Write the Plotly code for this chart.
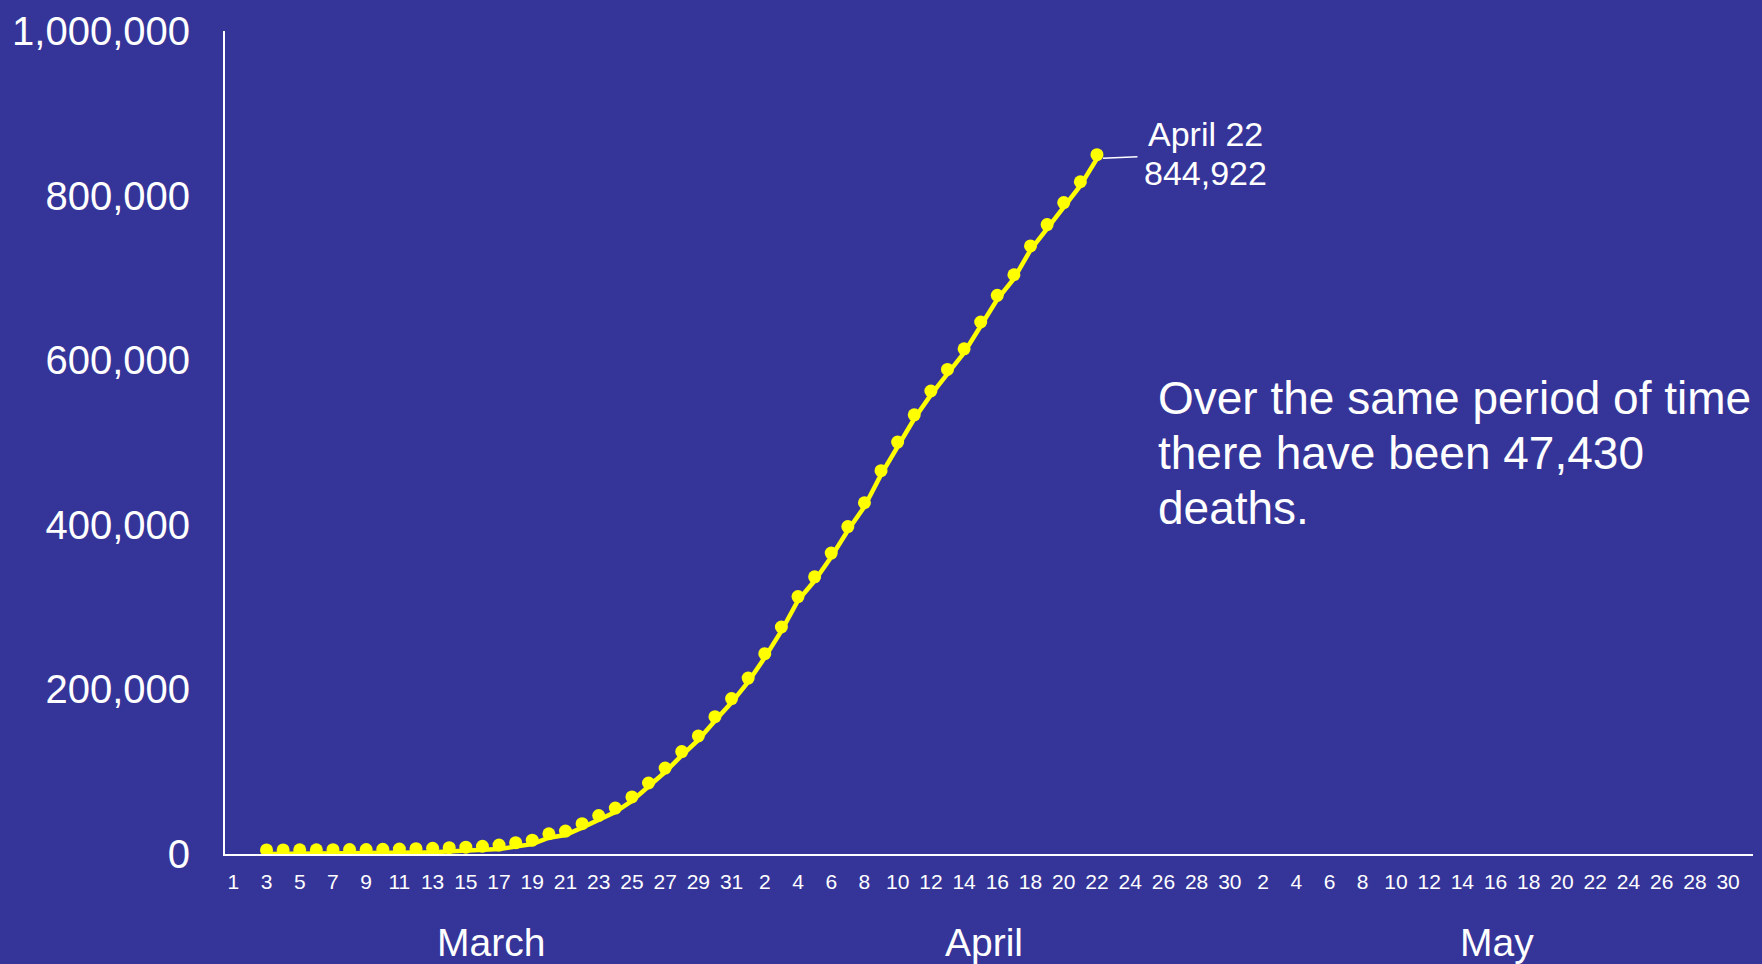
import pandas as pd
import plotly.graph_objects as go

# Cumulative confirmed cases, one value per day starting March 3
start_date = "2020-03-03"
cases = [
    100, 150, 220, 320, 420, 540, 600, 960, 1300, 1700,          # Mar 3-12
    2200, 2900, 3500, 4600, 6000, 9000, 12000, 19800, 23000,    # Mar 13-21
    32000, 42000, 51000, 64500, 81500, 99600, 119700, 138700,   # Mar 22-29
    162000, 184000,                                             # Mar 30-31
    209000, 238600, 271000, 308000, 332000, 360800, 393000,     # Apr 1-7
    422000, 461000, 495700, 528800, 557800, 584000, 609000,     # Apr 8-14
    641600, 674000, 699000, 734000, 760000, 786700, 812000,     # Apr 15-21
    844922,                                                     # Apr 22
]

# Day axis: March 1 through May 31, every other day labelled
axis_days = pd.date_range("2020-03-01", "2020-05-31", freq="D")
tick_days = axis_days[::2]
tick_text = [str(d.day) for d in tick_days]

months = ["March", "April", "May"]
y_ticks = [0, 200000, 400000, 600000, 800000, 1000000]

last_label = ["April 22", "844,922"]
note_lines = [
    "Over the same period of time",
    "there have been 47,430",
    "deaths.",
]

BG = "#353599"
YELLOW = "#FFFF00"
FONT = "Liberation Sans, Arial, sans-serif"

dates = pd.date_range(start_date, periods=len(cases), freq="D")

fig = go.Figure()

# Trend line
fig.add_trace(go.Scatter(
    x=dates, y=cases, mode="lines",
    line=dict(color=YELLOW, width=4.5),
    hoverinfo="skip", showlegend=False,
))

# Daily points, drawn on an overlay axis lifted slightly above the line
fig.add_trace(go.Scatter(
    x=dates, y=cases, mode="markers", yaxis="y2",
    marker=dict(color=YELLOW, size=13),
    showlegend=False,
))

y_max = y_ticks[-1]
lift = 4800

fig.update_layout(
    width=1762, height=964,
    paper_bgcolor=BG, plot_bgcolor=BG,
    margin=dict(l=225, r=9, t=25, b=110),
    font=dict(family=FONT, color="white"),
    xaxis=dict(
        type="date",
        range=[axis_days[0] - pd.Timedelta(hours=12), axis_days[-1] + pd.Timedelta(hours=12)],
        tickmode="array", tickvals=list(tick_days), ticktext=tick_text,
        tickfont=dict(size=21, color="white", family=FONT),
        showline=True, linecolor="white", linewidth=2,
        showgrid=False, zeroline=False, ticks="",
        ticklabelstandoff=8,
    ),
    yaxis=dict(
        range=[0, y_max],
        tickmode="array", tickvals=y_ticks, tickformat=",",
        tickfont=dict(size=40, color="white", family=FONT),
        showline=True, linecolor="white", linewidth=2,
        showgrid=False, zeroline=False, ticks="",
        ticklabelstandoff=25,
    ),
    yaxis2=dict(
        overlaying="y", range=[-lift, y_max - lift],
        visible=False, showgrid=False, zeroline=False,
    ),
)

# Month names under the day numbers
month_nudge = [9, -5, 1]
for m_i, name in enumerate(months):
    days_in = axis_days[axis_days.month == axis_days[0].month + m_i]
    mid = days_in[0] + (days_in[-1] - days_in[0]) / 2
    fig.add_annotation(
        x=mid, xref="x", y=-0.108, yref="paper",
        text=name, showarrow=False, yanchor="middle",
        xshift=month_nudge[m_i],
        font=dict(size=39, color="white", family=FONT),
    )

# Callout for the latest value: leader line, then two text lines
fig.add_annotation(
    x=dates[-1], y=cases[-1], xref="x", yref="y",
    text="", showarrow=True, arrowhead=0, arrowwidth=1.5, arrowcolor="white",
    ax=42, ay=-2, standoff=6,
)
for line, dy in zip(last_label, [25, -14]):
    fig.add_annotation(
        x=dates[-1], y=cases[-1], xref="x", yref="y",
        text=line, showarrow=False, xshift=109, yshift=dy,
        xanchor="center", yanchor="middle",
        font=dict(size=34, color="white", family=FONT),
    )

# Side note about deaths
note_y = [0.5538, 0.4873, 0.4208]
for line, yy in zip(note_lines, note_y):
    fig.add_annotation(
        x=0.609, xref="paper", y=yy, yref="paper",
        text=line, showarrow=False, xanchor="left", yanchor="middle",
        align="left", font=dict(size=46, color="white", family=FONT),
    )

fig.write_html("out.html")
